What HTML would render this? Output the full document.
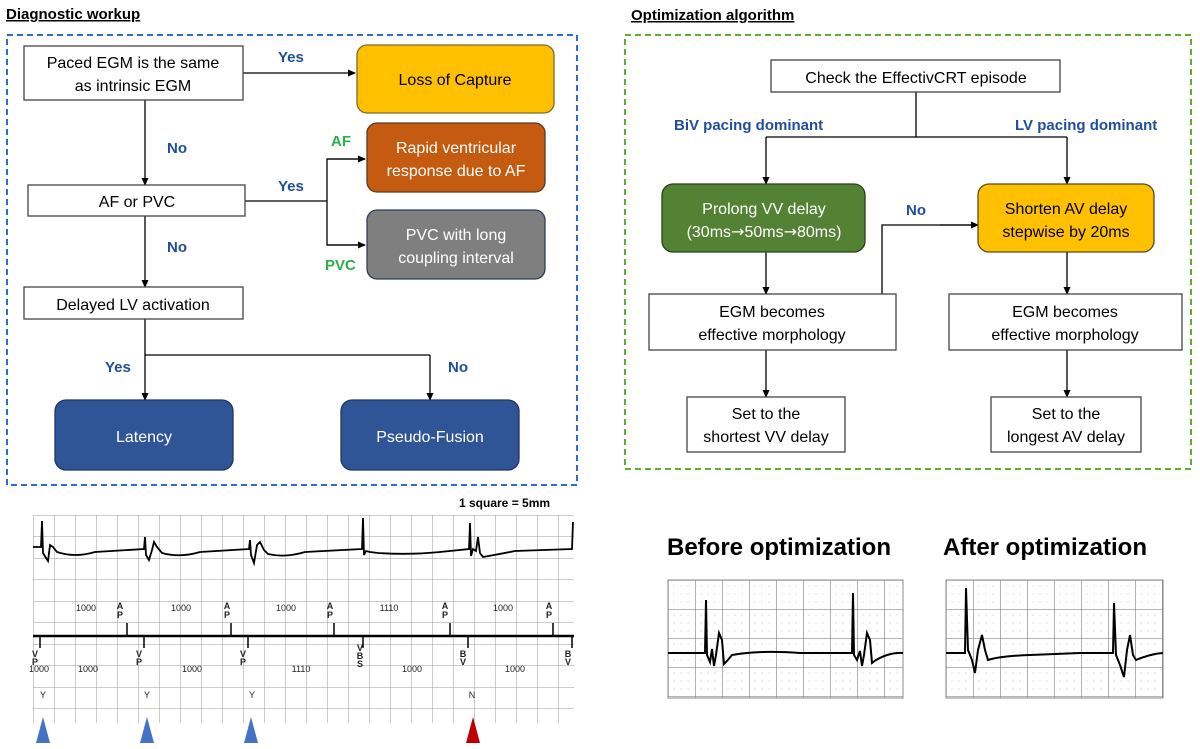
<!DOCTYPE html>
<html><head><meta charset="utf-8"><style>
html,body{margin:0;padding:0;background:#fff;}
svg{display:block;font-family:"Liberation Sans",sans-serif;}
</style></head><body>
<svg width="1200" height="749" viewBox="0 0 1200 749" xmlns="http://www.w3.org/2000/svg">
<defs>
<marker id="ar" markerWidth="8" markerHeight="8" refX="7" refY="4" orient="auto" markerUnits="userSpaceOnUse"><path d="M0,0.5 L8,4 L0,7.5 z" fill="#000"/></marker>
<pattern id="g" width="21" height="21.5" patternUnits="userSpaceOnUse" x="33" y="515"><path d="M0,0 H21 M0,0 V21.5" stroke="#999" stroke-width="1" fill="none"/></pattern>
<pattern id="g2" width="27" height="29" patternUnits="userSpaceOnUse" x="668" y="580"><rect width="27" height="29" fill="#fff"/><path d="M0,0 H27 M0,0 V29" stroke="#888" stroke-width="1.3" fill="none"/><g fill="#ccc"><circle cx="6" cy="6" r=".6"/><circle cx="13" cy="6" r=".6"/><circle cx="20" cy="6" r=".6"/><circle cx="6" cy="14" r=".6"/><circle cx="13" cy="14" r=".6"/><circle cx="20" cy="14" r=".6"/><circle cx="6" cy="22" r=".6"/><circle cx="13" cy="22" r=".6"/><circle cx="20" cy="22" r=".6"/></g></pattern>
<pattern id="g3" width="27" height="29" patternUnits="userSpaceOnUse" x="946" y="580"><rect width="27" height="29" fill="#fff"/><path d="M0,0 H27 M0,0 V29" stroke="#888" stroke-width="1.3" fill="none"/><g fill="#ccc"><circle cx="6" cy="6" r=".6"/><circle cx="13" cy="6" r=".6"/><circle cx="20" cy="6" r=".6"/><circle cx="6" cy="14" r=".6"/><circle cx="13" cy="14" r=".6"/><circle cx="20" cy="14" r=".6"/><circle cx="6" cy="22" r=".6"/><circle cx="13" cy="22" r=".6"/><circle cx="20" cy="22" r=".6"/></g></pattern>
</defs>

<!-- LEFT FLOWCHART -->
<text x="6" y="19" font-size="15" font-weight="bold" text-decoration="underline">Diagnostic workup</text>
<rect x="7" y="35" width="570" height="450" fill="none" stroke="#2F6BD8" stroke-width="2" stroke-dasharray="6,4"/>
<g stroke="#000" stroke-width="1.3" fill="none">
<line x1="243" y1="73" x2="355" y2="73" marker-end="url(#ar)"/>
<line x1="145" y1="100" x2="145" y2="185" marker-end="url(#ar)"/>
<path d="M245,201 H327 M365,159 H327 V245 H365"/>
<line x1="327" y1="159" x2="365" y2="159" marker-end="url(#ar)"/>
<line x1="327" y1="245" x2="365" y2="245" marker-end="url(#ar)"/>
<line x1="145" y1="216" x2="145" y2="287" marker-end="url(#ar)"/>
<path d="M145,319 V355 H430"/>
<line x1="145" y1="355" x2="145" y2="400" marker-end="url(#ar)"/>
<line x1="430" y1="355" x2="430" y2="400" marker-end="url(#ar)"/>
</g>
<rect x="24" y="46" width="219" height="54" fill="#fff" stroke="#444" stroke-width="1.3"/>
<text x="133" y="68" font-size="16" text-anchor="middle">Paced EGM is the same</text>
<text x="133" y="91" font-size="16" text-anchor="middle">as intrinsic EGM</text>
<rect x="357" y="45" width="197" height="68" rx="10" fill="#FFC000" stroke="#7a6a30" stroke-width="1.3"/>
<text x="455" y="85" font-size="16" text-anchor="middle">Loss of Capture</text>
<rect x="367" y="123" width="178" height="69" rx="10" fill="#C55A11" stroke="#5a3a20" stroke-width="1.3"/>
<text x="456" y="153" font-size="16" fill="#fff" text-anchor="middle">Rapid ventricular</text>
<text x="456" y="176" font-size="16" fill="#fff" text-anchor="middle">response due to AF</text>
<rect x="367" y="210" width="178" height="69" rx="10" fill="#7F7F7F" stroke="#2f3f5a" stroke-width="1.3"/>
<text x="456" y="240" font-size="16" fill="#fff" text-anchor="middle">PVC with long</text>
<text x="456" y="263" font-size="16" fill="#fff" text-anchor="middle">coupling interval</text>
<rect x="28" y="185" width="217" height="31" fill="#fff" stroke="#444" stroke-width="1.3"/>
<text x="137" y="207" font-size="16" text-anchor="middle">AF or PVC</text>
<rect x="24" y="287" width="219" height="32" fill="#fff" stroke="#444" stroke-width="1.3"/>
<text x="133" y="310" font-size="16" text-anchor="middle">Delayed LV activation</text>
<rect x="55" y="400" width="178" height="70" rx="11" fill="#2F5597" stroke="#1f3560" stroke-width="1.3"/>
<text x="144" y="442" font-size="16" fill="#fff" text-anchor="middle">Latency</text>
<rect x="341" y="400" width="178" height="70" rx="11" fill="#2F5597" stroke="#1f3560" stroke-width="1.3"/>
<text x="430" y="442" font-size="16" fill="#fff" text-anchor="middle">Pseudo-Fusion</text>
<g font-size="15" font-weight="bold" fill="#1F4E9A">
<text x="278" y="62">Yes</text>
<text x="167" y="153">No</text>
<text x="278" y="191">Yes</text>
<text x="167" y="252">No</text>
<text x="105" y="372">Yes</text>
<text x="448" y="372">No</text>
</g>
<g font-size="15" font-weight="bold" fill="#2DB04A">
<text x="331" y="146">AF</text>
<text x="325" y="270">PVC</text>
</g>

<!-- RIGHT FLOWCHART -->
<text x="631" y="20" font-size="15" font-weight="bold" text-decoration="underline">Optimization algorithm</text>
<rect x="625" y="35" width="566" height="434" fill="none" stroke="#5CB030" stroke-width="2" stroke-dasharray="6,4"/>
<g stroke="#000" stroke-width="1.3" fill="none">
<path d="M916,92 V137 M766,137 H1067"/>
<line x1="766" y1="137" x2="766" y2="184" marker-end="url(#ar)"/>
<line x1="1067" y1="137" x2="1067" y2="184" marker-end="url(#ar)"/>
<line x1="766" y1="252" x2="766" y2="294" marker-end="url(#ar)"/>
<line x1="1067" y1="252" x2="1067" y2="294" marker-end="url(#ar)"/>
<path d="M882,294 V225 H978"/>
<line x1="940" y1="225" x2="978" y2="225" marker-end="url(#ar)"/>
<line x1="766" y1="350" x2="766" y2="397" marker-end="url(#ar)"/>
<line x1="1067" y1="350" x2="1067" y2="397" marker-end="url(#ar)"/>
</g>
<rect x="771" y="60" width="289" height="32" fill="#fff" stroke="#444" stroke-width="1.3"/>
<text x="916" y="83" font-size="16" text-anchor="middle">Check the EffectivCRT episode</text>
<g font-size="15" font-weight="bold" fill="#1F4E9A">
<text x="674" y="130">BiV pacing dominant</text>
<text x="1015" y="130">LV pacing dominant</text>
<text x="906" y="215">No</text>
</g>
<rect x="662" y="184" width="203" height="68" rx="11" fill="#548235" stroke="#2a3f1a" stroke-width="1.3"/>
<text x="764" y="214" font-size="16" fill="#fff" text-anchor="middle">Prolong VV delay</text>
<text x="764" y="237" font-size="16" fill="#fff" text-anchor="middle">(30ms<tspan font-family="DejaVu Sans, sans-serif">→</tspan>50ms<tspan font-family="DejaVu Sans, sans-serif">→</tspan>80ms)</text>
<rect x="978" y="184" width="176" height="68" rx="11" fill="#FFC000" stroke="#5a4a20" stroke-width="1.3"/>
<text x="1066" y="214" font-size="16" text-anchor="middle">Shorten AV delay</text>
<text x="1066" y="237" font-size="16" text-anchor="middle">stepwise by 20ms</text>
<rect x="649" y="294" width="247" height="56" fill="#fff" stroke="#444" stroke-width="1.3"/>
<text x="772" y="317" font-size="16" text-anchor="middle">EGM becomes</text>
<text x="772" y="340" font-size="16" text-anchor="middle">effective morphology</text>
<rect x="949" y="294" width="233" height="56" fill="#fff" stroke="#444" stroke-width="1.3"/>
<text x="1065" y="317" font-size="16" text-anchor="middle">EGM becomes</text>
<text x="1065" y="340" font-size="16" text-anchor="middle">effective morphology</text>
<rect x="687" y="397" width="158" height="55" fill="#fff" stroke="#444" stroke-width="1.3"/>
<text x="766" y="419" font-size="16" text-anchor="middle">Set to the</text>
<text x="766" y="442" font-size="16" text-anchor="middle">shortest VV delay</text>
<rect x="991" y="397" width="150" height="55" fill="#fff" stroke="#444" stroke-width="1.3"/>
<text x="1066" y="419" font-size="16" text-anchor="middle">Set to the</text>
<text x="1066" y="442" font-size="16" text-anchor="middle">longest AV delay</text>

<!-- LEFT ECG -->
<text x="459" y="507" font-size="12" font-weight="bold">1 square = 5mm</text>
<rect x="33" y="515" width="541" height="208" fill="url(#g)"/>
<path d="M33,547 L41,547 L42,521 L43,553 L46,558 L48,561 L50,545 L53,547 L57,552 Q75,558 95,552 L144,549 L145,537 L146,555 L149,560 L152,550 L154,542 L157,547 L162,553 Q180,558 200,552 L249,549 L250,540 L251,555 L254,563 L257,545 L260,542 L264,550 L268,554 Q285,558 305,552 L362,549 L363,518 L364,555 L366,551 L370,552 L378,553 Q410,555 440,552 L469,549 L470,523 L471,556 L473,549 L476,551 L478,537 L480,553 L483,557 Q500,554 515,551 L572,549 L573,522" fill="none" stroke="#000" stroke-width="1.8"/>
<line x1="33" y1="636" x2="574" y2="636" stroke="#000" stroke-width="2.5"/>
<g stroke="#000" stroke-width="1.5">
<line x1="127" y1="623" x2="127" y2="636"/><line x1="231" y1="623" x2="231" y2="636"/><line x1="334" y1="623" x2="334" y2="636"/><line x1="450" y1="623" x2="450" y2="636"/><line x1="553" y1="623" x2="553" y2="636"/>
<line x1="40" y1="636" x2="40" y2="648"/><line x1="144" y1="636" x2="144" y2="648"/><line x1="248" y1="636" x2="248" y2="648"/><line x1="363" y1="636" x2="363" y2="648"/><line x1="468" y1="636" x2="468" y2="648"/><line x1="572" y1="636" x2="572" y2="648"/>
</g>
<g font-size="9" fill="#222" text-anchor="middle">
<text x="86" y="611">1000</text><text x="181" y="611">1000</text><text x="286" y="611">1000</text><text x="389" y="611">1110</text><text x="503" y="611">1000</text>
<text x="39" y="672">1000</text><text x="88" y="672">1000</text><text x="192" y="672">1000</text><text x="301" y="672">1110</text><text x="412" y="672">1000</text><text x="515" y="672">1000</text>
<text x="43" y="698">Y</text><text x="147" y="698">Y</text><text x="252" y="698">Y</text><text x="472" y="698">N</text>
</g>
<g font-size="9" font-weight="bold" fill="#222" text-anchor="middle">
<text x="120" y="609">A</text><text x="120" y="618">P</text>
<text x="227" y="609">A</text><text x="227" y="618">P</text>
<text x="330" y="609">A</text><text x="330" y="618">P</text>
<text x="445" y="609">A</text><text x="445" y="618">P</text>
<text x="549" y="609">A</text><text x="549" y="618">P</text>
<text x="35" y="657">V</text><text x="35" y="665">P</text>
<text x="139" y="657">V</text><text x="139" y="665">P</text>
<text x="243" y="657">V</text><text x="243" y="665">P</text>
<text x="360" y="651">V</text><text x="360" y="659">B</text><text x="360" y="667">S</text>
<text x="463" y="657">B</text><text x="463" y="665">V</text>
<text x="568" y="657">B</text><text x="568" y="665">V</text>
</g>
<polygon points="36,743 43,717 50,743" fill="#4472C4"/>
<polygon points="140,743 147,717 154,743" fill="#4472C4"/>
<polygon points="244,743 251,717 258,743" fill="#4472C4"/>
<polygon points="466,743 473,717 480,743" fill="#C00000"/>

<!-- RIGHT ECGs -->
<text x="667" y="555" font-size="24" font-weight="bold">Before optimization</text>
<text x="943" y="555" font-size="24" font-weight="bold">After optimization</text>
<rect x="668" y="580" width="235" height="118" fill="url(#g2)" stroke="#888"/>
<rect x="946" y="580" width="217" height="118" fill="url(#g3)" stroke="#888"/>
<path d="M668,653 L705,653 L706,600 L707,655 L710,662 L712,649 L714,666 L716,655 L719,633 L722,640 L724,664 L727,661 L732,655 Q760,650 800,653 L852,653 L853,593 L854,655 L857,660 L860,651 L862,666 L864,655 L867,633 L870,640 L872,663 L876,660 Q890,652 903,653" fill="none" stroke="#000" stroke-width="2"/>
<path d="M946,653 L965,653 L966,588 L968,650 L972,660 L975,673 L978,650 L982,635 L985,650 L988,660 Q1000,656 1030,655 L1080,653 L1113,653 L1114,603 L1116,655 L1120,665 L1124,677 L1127,650 L1130,635 L1133,655 L1136,660 Q1150,654 1163,653" fill="none" stroke="#000" stroke-width="2"/>
</svg>
</body></html>
